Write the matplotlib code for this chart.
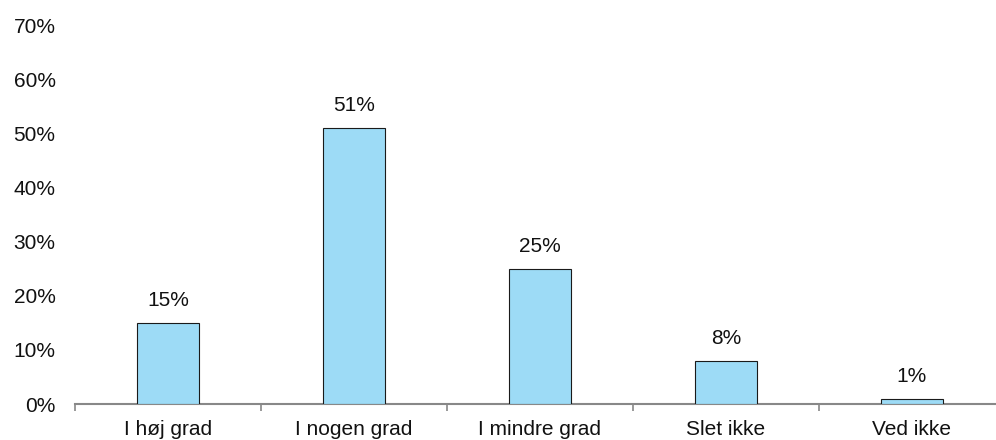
import matplotlib
matplotlib.use("Agg")
import matplotlib.pyplot as plt
import numpy as np

categories = ["I høj grad", "I nogen grad", "I mindre grad", "Slet ikke", "Ved ikke"]
values = [15, 51, 25, 8, 1]
y_ticks = [0, 10, 20, 30, 40, 50, 60, 70]

plt.rcParams["font.family"] = ["Liberation Sans", "DejaVu Sans"]
FS = 15

fig = plt.figure(figsize=(9.96, 4.4), dpi=100)
W, H = 996, 440
left, right = 75, 1005
bottom, top = 404, 25
ax = fig.add_axes([left / W, 1 - bottom / H, (right - left) / W, (bottom - top) / H])

x = np.arange(len(categories))
ax.bar(x, values, width=0.335, color="#9DDBF6", edgecolor="#1a1a1a", linewidth=0.8, zorder=3)

for xi, v in zip(x, values):
    ax.annotate(f"{v}%", (xi, v), xytext=(0, 9), textcoords="offset points",
                ha="center", va="bottom", fontsize=FS, color="#111111")

ax.set_xlim(-0.5, len(categories) - 0.5)
ax.set_ylim(0, 70)
ax.set_yticks(y_ticks)
ax.set_yticklabels([f"{t}%" for t in y_ticks], fontsize=FS, color="#111111")
ax.tick_params(axis="y", length=0, pad=14)

ax.set_xticks(x)
ax.set_xticklabels(categories, fontsize=FS, color="#111111")
ax.tick_params(axis="x", length=0, pad=11.5)
ax.set_xticks(np.arange(-0.5, len(categories), 1.0), minor=True)
ax.tick_params(axis="x", which="minor", length=5, width=1.2, color="#888888", direction="out")

for s in ["top", "right", "left"]:
    ax.spines[s].set_visible(False)
ax.spines["bottom"].set_color("#888888")
ax.spines["bottom"].set_linewidth(1.5)

fig.savefig("out.png", dpi=100)
